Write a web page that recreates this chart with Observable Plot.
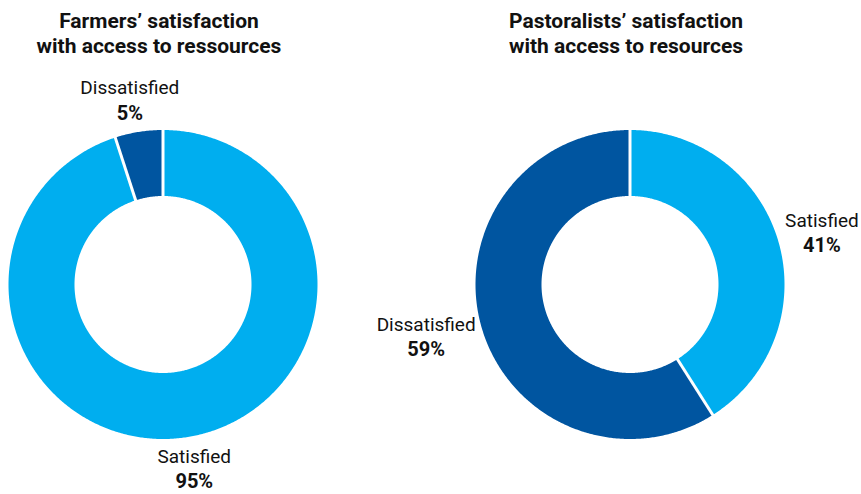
<!DOCTYPE html>
<html>
<head>
<meta charset="utf-8">
<script src="https://cdn.jsdelivr.net/npm/d3@7"></script>
<script src="https://cdn.jsdelivr.net/npm/@observablehq/plot@0.6"></script>
<style>
  html, body { margin: 0; padding: 0; background: #fff; }
  #chart { width: 861px; height: 494px; }
</style>
</head>
<body>
<div id="chart"></div>
<script>
// ---- Data ----
const titles = [
  "Farmers’ satisfaction\nwith access to ressources",
  "Pastoralists’ satisfaction\nwith access to resources"
];
const categories = ["Satisfied", "Dissatisfied"];
const farmersValues = [95, 5];
const pastoralistsValues = [41, 59];
const colors = ["#00aeef", "#0055a0"];

// ---- Layout (pixels) ----
const W = 861, H = 494;
const R = 154.5;            // outer radius in px = 1 unit
const innerFrac = 88.5 / R; // inner radius in units
const firstCenterX = 162.5, secondCenterX = 629.5, centerY = 284;
const spacing = (secondCenterX - firstCenterX) / R;
const labelFont = 19, labelGap = 8, blockHalfHeight = 24, charWidth = 8.3;

const series = [farmersValues, pastoralistsValues];
const pie = d3.pie().sort(null).value(d => d.value);

const slices = series.flatMap((vals, ci) =>
  pie(categories.map((c, i) => ({category: c, value: vals[i]}))).map(s => ({
    category: s.data.category,
    value: s.data.value,
    chart: ci,
    cx: ci * spacing,
    start: s.startAngle,
    end: s.endAngle,
    mid: (s.startAngle + s.endAngle) / 2
  }))
);

// polygon outline for each slice (angles clockwise from 12 o'clock)
const points = slices.flatMap((s, k) => {
  const n = Math.max(2, Math.ceil((s.end - s.start) / (Math.PI / 360)));
  const pts = [];
  for (let j = 0; j <= n; j++) {
    const a = s.start + (s.end - s.start) * j / n;
    pts.push({key: k, category: s.category, x: s.cx + Math.sin(a), y: Math.cos(a)});
  }
  for (let j = n; j >= 0; j--) {
    const a = s.start + (s.end - s.start) * j / n;
    pts.push({key: k, category: s.category, x: s.cx + innerFrac * Math.sin(a), y: innerFrac * Math.cos(a)});
  }
  pts.push({...pts[0]});
  return pts;
});

// label block centre: point just outside the ring, pushed out by half the block size
const halfW = s => s.category.length * charWidth / 2;
const lx = s => s.cx + ((R + labelGap) * Math.sin(s.mid) + Math.sin(s.mid) * halfW(s)) / R;
const ly = s => ((R + labelGap) * Math.cos(s.mid) + Math.cos(s.mid) * blockHalfHeight) / R;

const chart = Plot.plot({
  width: W,
  height: H,
  margin: 0,
  x: {domain: [-firstCenterX / R, (W - firstCenterX) / R], axis: null},
  y: {domain: [-(H - centerY) / R, centerY / R], axis: null},
  color: {domain: categories, range: colors},
  style: {fontFamily: "Roboto, 'Open Sans', sans-serif", background: "#fff"},
  marks: [
    Plot.line(points, {x: "x", y: "y", z: "key", fill: "category", stroke: "none", curve: "linear"}),
    Plot.link(slices, {
      x1: s => s.cx + innerFrac * 0.98 * Math.sin(s.start),
      y1: s => innerFrac * 0.98 * Math.cos(s.start),
      x2: s => s.cx + 1.01 * Math.sin(s.start),
      y2: s => 1.01 * Math.cos(s.start),
      stroke: "white",
      strokeWidth: 3
    }),
    Plot.text(slices, {
      x: lx, y: ly, text: "category",
      fontSize: labelFont, fill: "#111", dy: -12
    }),
    Plot.text(slices, {
      x: lx, y: ly, text: s => s.value + "%",
      fontSize: 20, fontWeight: "bold", fill: "#111", dy: 13
    }),
    Plot.text(titles, {
      x: (d, i) => i * spacing,
      frameAnchor: "top",
      text: d => d,
      fontSize: 21,
      fontWeight: "bold",
      fill: "#111",
      lineAnchor: "top",
      lineHeight: 1.19,
      dy: 10,
      dx: -4
    })
  ]
});

document.getElementById("chart").appendChild(chart);
</script>
</body>
</html>
